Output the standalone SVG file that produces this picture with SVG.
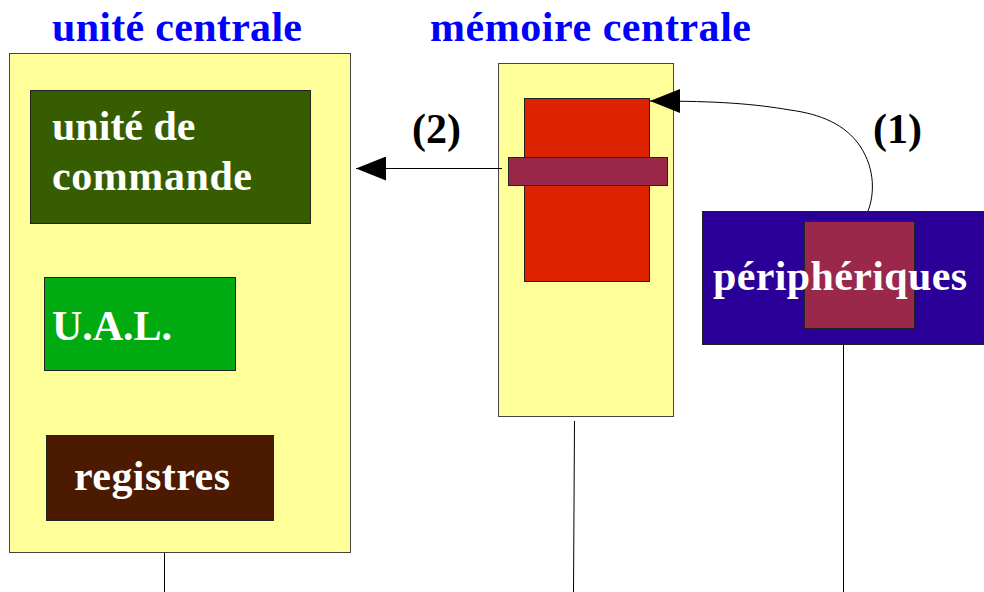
<svg xmlns="http://www.w3.org/2000/svg" width="984" height="592" viewBox="0 0 984 592">
  <style>
    .title { font-family: "Liberation Serif", "Times New Roman", serif; font-weight: bold; font-size: 42px; fill: #0000ff; }
    .label { font-family: "Liberation Serif", "Times New Roman", serif; font-weight: bold; font-size: 42px; fill: #ffffff; }
    .num { font-family: "Liberation Serif", "Times New Roman", serif; font-weight: bold; font-size: 42px; fill: #000000; }
    .panel { fill: #ffff99; stroke: #444444; stroke-width: 1; }
    .box { stroke: #222222; stroke-width: 1; }
    .wire { fill: none; stroke: #000000; stroke-width: 1; }
  </style>
  <defs>
    <marker id="head" viewBox="0 0 30 24" refX="30" refY="12" markerWidth="30" markerHeight="24" markerUnits="userSpaceOnUse" orient="auto">
      <path d="M0,0 L30,12 L0,24 Z" fill="#000000"/>
    </marker>
  </defs>

  <rect width="984" height="592" fill="#ffffff"/>

  <!-- section titles -->
  <text class="title" x="52" y="41" textLength="250">unité centrale</text>
  <text class="title" x="430" y="41" textLength="321">mémoire centrale</text>

  <!-- central processing unit -->
  <g id="unite-centrale">
    <rect class="panel" x="9.5" y="53.5" width="341" height="499"/>
  </g>
  <g id="unite-de-commande">
    <rect class="box" x="30.5" y="90.5" width="280" height="133" fill="#365e00"/>
    <text class="label" x="52" y="140">unité de</text>
    <text class="label" x="52" y="190" textLength="200">commande</text>
  </g>
  <g id="ual">
    <rect class="box" x="44.5" y="277.5" width="191" height="93" fill="#00aa11"/>
    <text class="label" x="52" y="340" textLength="120">U.A.L.</text>
  </g>
  <g id="registres">
    <rect class="box" x="46.5" y="435.5" width="227" height="85" fill="#4b1a00"/>
    <text class="label" x="74" y="490" textLength="156">registres</text>
  </g>

  <!-- main memory -->
  <g id="memoire-centrale">
    <rect class="panel" x="498.5" y="63.5" width="175" height="353"/>
    <rect class="box" x="524.5" y="98.5" width="125" height="183" fill="#dd2200"/>
    <rect class="box" x="508.5" y="157.5" width="159" height="28" fill="#99284a"/>
  </g>

  <!-- peripherals -->
  <g id="peripheriques">
    <rect class="box" x="702.5" y="211.5" width="282" height="133" fill="#2a0098"/>
    <rect class="box" x="804.5" y="221.5" width="110" height="107" fill="#99284a"/>
    <text class="label" x="713" y="290" textLength="254">périphériques</text>
  </g>

  <!-- data flows and bus lines -->
  <g id="connecteurs">
    <path class="wire" d="M502,168.5 L356,168.5" marker-end="url(#head)"/>
    <path class="wire" d="M868,211 C874,196 876,170 860,146 C845,124 820,114 790,110 C755,104 720,101 650,101" marker-end="url(#head)"/>
    <line class="wire" x1="164.5" y1="553" x2="164.5" y2="592"/>
    <line class="wire" x1="574.5" y1="421" x2="573.5" y2="592"/>
    <line class="wire" x1="843.5" y1="345" x2="843.5" y2="592"/>
  </g>

  <!-- flow labels -->
  <text class="num" x="412" y="143">(2)</text>
  <text class="num" x="873" y="143">(1)</text>
</svg>
